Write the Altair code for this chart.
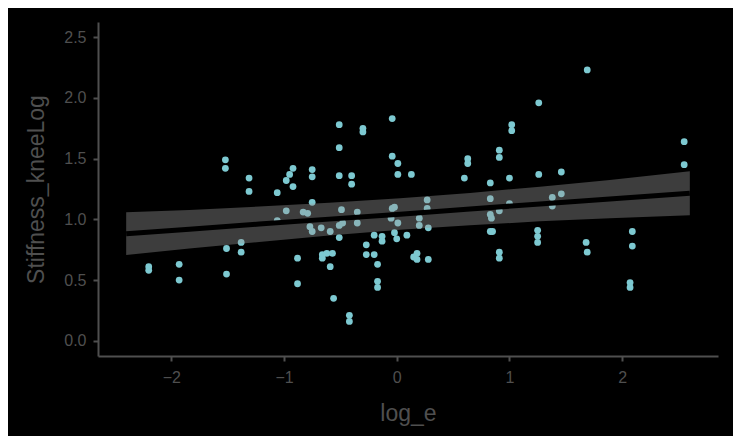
import altair as alt
import pandas as pd

# scatter data
log_e = [-2.20, -2.20, -1.93, -1.93, -1.52, -1.52, -1.31, -1.31, -1.51, -1.51,
         -1.38, -1.38, -0.51, -0.30, -0.30, -0.04, -0.51, -0.04, 0.01, 0.01,
         0.13, -0.92, -0.95, -0.98, -0.92, -0.75, -0.75, -0.51, -0.40, -0.40,
         -1.06, -0.75, -0.98, -0.83, -0.79, -1.06, -0.77, -0.75, -0.67, -0.59,
         -0.49, -0.51, -0.48, -0.35, -0.35, -0.04, -0.02, -0.05, 0.01, -0.51,
         -0.20, -0.13, -0.13, -0.02, 0.00, 0.09, -0.27, -0.27, -0.20, -0.66,
         -0.62, -0.57, -0.66, -0.88, -0.59, -0.17, -0.88, -0.17, -0.17, -0.56,
         -0.42, -0.42, 0.15, 1.26, 1.02, 1.02, 0.91, 0.91, 0.63, 0.63,
         0.60, 0.83, 1.00, 1.26, 1.46, 0.27, 0.27, 0.20, 0.20, 0.28,
         0.83, 1.00, 0.83, 0.84, 0.91, 1.38, 1.38, 1.46, 0.83, 0.85,
         1.25, 1.25, 1.25, 0.18, 0.18, 0.28, 0.91, 0.91, 1.69, 2.55,
         2.55, 2.09, 2.09, 1.68, 1.69, 2.07, 2.07]
stiffness = [0.61, 0.58, 0.63, 0.50, 1.49, 1.42, 1.34, 1.23, 0.76, 0.55,
             0.81, 0.73, 1.78, 1.75, 1.72, 1.83, 1.59, 1.52, 1.46, 1.37,
             1.37, 1.42, 1.37, 1.32, 1.27, 1.41, 1.35, 1.36, 1.36, 1.29,
             1.22, 1.14, 1.07, 1.06, 1.05, 0.99, 0.94, 0.90, 0.93, 0.90,
             1.08, 0.95, 0.97, 1.06, 0.97, 1.09, 1.10, 1.01, 0.97, 0.85,
             0.87, 0.86, 0.82, 0.89, 0.84, 0.87, 0.79, 0.71, 0.71, 0.71,
             0.72, 0.72, 0.68, 0.68, 0.61, 0.63, 0.47, 0.49, 0.44, 0.35,
             0.21, 0.16, 0.69, 1.96, 1.78, 1.73, 1.57, 1.51, 1.50, 1.46,
             1.34, 1.30, 1.34, 1.37, 1.39, 1.16, 1.09, 1.01, 0.95, 0.93,
             1.17, 1.13, 1.04, 1.01, 1.07, 1.18, 1.11, 1.21, 0.90, 0.90,
             0.91, 0.86, 0.81, 0.72, 0.67, 0.67, 0.73, 0.68, 2.23, 1.64,
             1.45, 0.90, 0.78, 0.81, 0.73, 0.48, 0.44]

# fitted line and confidence band
band_x = [-2.40, -1.84, -1.22, -0.60, 0.03, 0.65, 1.27, 1.89, 2.60]
band_fit = [0.882, 0.919, 0.961, 1.002, 1.043, 1.085, 1.127, 1.168, 1.215]
band_lo = [0.706, 0.761, 0.814, 0.867, 0.914, 0.951, 0.984, 1.009, 1.034]
band_hi = [1.058, 1.078, 1.105, 1.137, 1.173, 1.218, 1.269, 1.324, 1.396]

pts = pd.DataFrame({"log_e": log_e, "Stiffness_kneeLog": stiffness})
band = pd.DataFrame({"log_e": band_x, "fit": band_fit, "lo": band_lo, "hi": band_hi})

FONT = "Liberation Sans"
GREY = "#4f4f4f"

xscale = alt.Scale(domain=[-2.65, 2.85], nice=False, zero=False)
yscale = alt.Scale(domain=[-0.125, 2.625], nice=False, zero=False)

xaxis = alt.Axis(values=[-2, -1, 0, 1, 2], grid=False, title="log_e", format="d")
yaxis = alt.Axis(values=[0, 0.5, 1, 1.5, 2, 2.5], grid=False, title="Stiffness_kneeLog", format=".1f")

points = alt.Chart(pts).mark_circle(size=46, opacity=1, color="#7dc9d1").encode(
    x=alt.X("log_e:Q", scale=xscale, axis=xaxis),
    y=alt.Y("Stiffness_kneeLog:Q", scale=yscale, axis=yaxis),
)

ribbon = alt.Chart(band).mark_area(color="#999999", opacity=0.4).encode(
    x=alt.X("log_e:Q", scale=xscale),
    y=alt.Y("lo:Q", scale=yscale),
    y2="hi:Q",
)

line = alt.Chart(band).mark_line(color="black", strokeWidth=5).encode(
    x=alt.X("log_e:Q", scale=xscale),
    y=alt.Y("fit:Q", scale=yscale),
)

chart = alt.layer(points, ribbon, line).properties(
    width=620,
    height=334,
    background="black",
    padding={"left": 90, "top": 14, "right": 15, "bottom": 80},
    autosize=alt.AutoSizeParams(type="none"),
).configure_view(stroke=None).configure_axis(
    domainColor=GREY,
    domainWidth=2,
    tickColor=GREY,
    tickWidth=2,
    tickSize=5,
    labelColor=GREY,
    labelFont=FONT,
    labelFontSize=16,
    labelPadding=7,
    titleColor=GREY,
    titleFont=FONT,
    titleFontSize=23,
    titleFontWeight="normal",
).configure_axisX(titlePadding=17, labelPadding=8).configure_axisY(titlePadding=15)

chart.save("out.html", embed_options={"renderer": "svg", "actions": False})
